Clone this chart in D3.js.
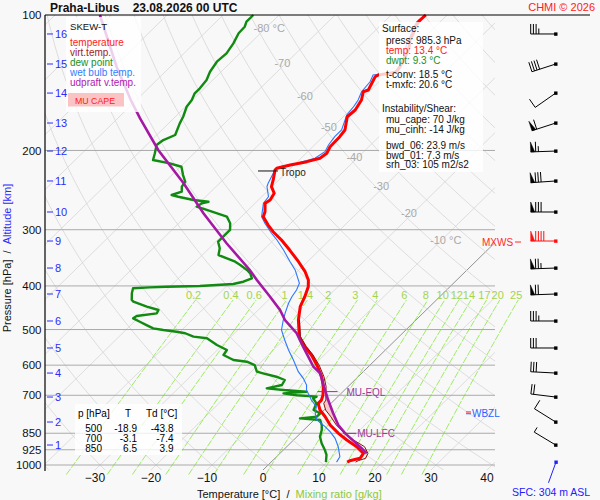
<!DOCTYPE html>
<html>
<head>
<meta charset="utf-8">
<title>Praha-Libus skew-T</title>
<script src="https://cdn.jsdelivr.net/npm/d3@7/dist/d3.min.js"></script>
<style>
  body { margin: 0; background: #f8f8f8; }
  svg { display: block; font-family: "Liberation Sans", Arial, sans-serif; }
</style>
</head>
<body>
<div id="chart"></div>
<script>
// values (hPa / deg C)
let pressureTicks = [100, 200, 300, 400, 500, 600, 700, 850, 925, 1000];
let tempTicks = [-30, -20, -10, 0, 10, 20, 30, 40];
let mixRatios = [0.2, 0.4, 0.6, 1, 1.4, 2, 3, 4, 6, 8, 10, 12, 14, 17, 20, 25];
let isoLabels = [-80, -70, -60, -50, -40, -30, -20, -10];

let tempP = [100, 102.6, 106.2, 109.8, 113.6, 117.6, 121.7, 125.9, 130.3, 133.7,
  134.8, 135.9, 137.1, 139.5, 146.8, 148.1, 154.5, 162.6, 168.3, 180.1,
  186.4, 196.2, 202.9, 208.2, 211.8, 215.4, 219.1, 221.0, 232.6, 240.7,
  249.0, 257.7, 262.1, 273.5, 280.6, 292.9, 303.1, 316.2, 332.9, 353.4,
  371.9, 388.1, 401.6, 422.7, 444.8, 476.2, 518.6, 545.9, 569.6, 599.6,
  636.6, 669.9, 700, 717.3, 729.3, 754.7, 781.1, 815, 850.5, 880,
  910.8, 942, 966.3, 978.2, 985.3];
let tempT = [-53.8, -53.9, -53.6, -52.7, -52.1, -51.0, -50.2, -49.6, -49.0, -48.7,
  -49.6, -51.4, -51.6, -51.3, -50.4, -51.0, -49.8, -49.1, -49.3, -47.3,
  -47.0, -46.9, -46.3, -46.6, -48.3, -50.7, -52.5, -52.5, -51.0, -50.1,
  -48.4, -47.9, -48.2, -46.7, -46.1, -43.7, -41.6, -38.6, -35.3, -31.6,
  -28.6, -26.5, -25.3, -24.1, -23.1, -21.0, -17.8, -15.0, -12.3, -9.5,
  -6.5, -4.4, -2.9, -2.3, -2.3, -0.75, 1.4, 3.8, 6.8, 9.5,
  12.5, 14.9, 15.2, 13.8, 13.6];

let virtP = [476.2, 518.6, 545.9, 569.6, 599.6, 636.6, 669.9, 700, 717.3, 729.3,
  754.7, 781.1, 815, 850.5, 880, 910.8, 942, 966.3, 978.2, 985.3];
let virtT = [-20.8, -17.6, -14.7, -12.0, -9.1, -6.1, -3.9, -2.4, -1.5, -1.3,
  0.25, 2.4, 4.9, 7.9, 10.7, 13.9, 15.7, 16.2, 15.3, 15.1];

let dewP = [100, 103.5, 106.2, 109.8, 115.6, 121.7, 127.0, 133.7, 139.5, 145.5,
  149.3, 154.5, 159.9, 168.3, 174.1, 184.8, 189.6, 194.5, 202.9, 210.0,
  213.6, 217.4, 226.8, 234.7, 240.7, 247.0, 251.2, 253.4, 257.7, 260.0,
  262.0, 266.7, 271.2, 280.6, 290.3, 300.4, 310.9, 319.0, 330.0, 341.5,
  347.3, 353.4, 359.4, 368.6, 375.0, 384.7, 391.5, 396.1, 400.2, 401.6,
  402.9, 404.9, 415.4, 429.9, 433.6, 444.8, 452.5, 460.2, 466.6, 472.2,
  480.4, 488.7, 497.0, 501.2, 505.6, 509.6, 518.6, 522.9, 541.1, 555.2,
  569.6, 584.4, 589.5, 599.6, 620.4, 625.6, 636.6, 647.3, 664.1, 675.5,
  681.3, 687.3, 693.0, 700, 704.7, 710.9, 729.3, 754.7, 767.6, 781.1,
  787.6, 794.3, 815, 835.9, 865.0, 894.8, 926.1, 950.0, 985.3];
let dewT = [-84.6, -84.6, -84.0, -83.9, -83.0, -82.4, -82.6, -82.0, -81.1, -80.8,
  -80.8, -80.1, -79.8, -78.6, -78.0, -76.7, -77.9, -78.2, -77.0, -76.1,
  -72.5, -69.8, -68.0, -66.4, -66.1, -65.2, -66.4, -64.9, -61.6, -58.6,
  -59.5, -59.8, -57.4, -52.6, -50.8, -49.6, -49.6, -49.6, -48.1, -47.1,
  -45.0, -42.9, -41.4, -39.3, -38.1, -36.9, -37.8, -39.2, -44.8, -50.6,
  -53.5, -56.3, -55.6, -54.4, -53.8, -50.5, -47.8, -47.5, -50.6, -50.8,
  -49.0, -47.2, -45.4, -43.3, -40.6, -38.8, -36.7, -34.0, -31.0, -28.3,
  -28.0, -25.3, -22.6, -20.6, -19.0, -17.6, -14.6, -12.5, -12.1, -14.2,
  -10.9, -6.5, -10.3, -7.6, -3.8, -4.1, -2.6, -1.9, -0.1, -0.1,
  -2.8, 1.1, 2.3, 3.2, 4.1, 5.6, 7.4, 8.6, 9.8];

let wetP = [100, 103.5, 111.7, 117.6, 121.7, 129.2, 133.7, 135.2, 135.9, 140.7,
  148.1, 154.5, 159.9, 166.8, 180.1, 186.4, 194.5, 201.3, 208.2, 213.6,
  217.4, 221.0, 236.6, 240.7, 253.4, 262.1, 280.6, 290.3, 305.5, 316.2,
  332.9, 353.4, 368.6, 394.7, 408.4, 422.7, 437.2, 460.2, 476.2, 501.2,
  527.5, 555.2, 584.4, 620.4, 641.8, 664.1, 681.3, 693.0, 717.3, 742.1,
  767.6, 794.3, 821.9, 843.3, 872.3, 910.8, 958.3, 985.3];
let wetT = [-54.0, -54.2, -52.7, -51.6, -50.2, -49.3, -49.0, -51.2, -52.3, -51.6,
  -51.3, -50.4, -50.0, -49.7, -47.9, -47.9, -47.5, -46.9, -47.5, -49.8,
  -52.2, -52.5, -51.3, -50.9, -48.8, -48.5, -46.4, -44.6, -41.6, -39.4,
  -36.4, -33.1, -30.7, -27.5, -26.8, -26.4, -25.8, -24.6, -23.7, -22.2,
  -19.8, -17.3, -14.6, -11.6, -9.5, -7.7, -6.8, -5.9, -4.1, -2.0,
  -1.0, 0.5, 3.2, 5.0, 7.1, 9.2, 11.3, 11.7];

let parcelP = [100, 130.3, 154.5, 169.7, 199.5, 236.6, 275.8, 321.6, 368.6, 388.1,
  422.7, 452.5, 476.2, 509.6, 545.9, 604.8, 625.6, 681.3, 717.3, 767.6,
  815, 850.5, 918.2, 942];
let parcelT = [-112.0, -99.6, -91.0, -86.0, -77.0, -66.4, -57.4, -47.8, -38.8, -35.7,
  -30.3, -26.1, -23.4, -18.9, -15.3, -9.8, -7.4, -3.5, -1.1, 2.2,
  5.25, 8.0, 13.7, 15.5];

// altitude marks (km) and the wind at each of them
let altKm = [1, 2, 3, 4, 5, 6, 7, 8, 9, 10, 11, 12, 13, 14, 15, 16];
let altP = [902.8, 802.6, 706.3, 624.7, 549.5, 478.6, 416.9, 365.0, 317.9, 274.0,
  233.8, 200.6, 173.8, 149.1, 128.5, 110.2];
let windDir = [301, 302, 277, 273, 270, 270, 268, 268, 270, 270, 266, 268, 252, 235, 252, 270];
let windSpd = [5, 10, 20, 30, 30, 35, 70, 75, 90, 80, 80, 65, 60, 10, 40, 35];
let sfcP = 985.3;
let sfcWindDir = 200;

let tableP = [500, 700, 850];
let tableT = [-18.9, -3.1, 6.5];
let tableTd = [-43.8, -7.4, 3.9];

let lfcP = 850.5;
let eqlP = 687;
let tropoP = 221;
let wbzlP = 767;
let mxwsKm = 9;

let W = 600, H = 500;
let plotL = 45, plotR = 495, plotT = 15, plotB = 470;
let skew = 1.02;

let y = d3.scaleLog().domain([100, 1000]).range([15, 465]);
let xT = d3.scaleLinear().domain([0, 10]).range([263, 319]);
function px(t, p) { return xT(t) + skew * (plotB - y(p)); }

function interpLog(ps, ts, p) {
  for (let i = 0; i < ps.length - 1; i++) {
    let a = ps[i], b = ps[i + 1];
    if ((p >= a && p <= b) || (p <= a && p >= b)) {
      let f = (Math.log(p) - Math.log(a)) / (Math.log(b) - Math.log(a));
      return ts[i] + f * (ts[i + 1] - ts[i]);
    }
  }
  return NaN;
}

function dewFromMix(w, p) {
  let e = w * p / (622 + w);
  let l = Math.log(e / 6.112);
  return 243.5 * l / (17.67 - l);
}

let svg = d3.select('#chart').append('svg')
  .attr('width', W)
  .attr('height', H);

svg.append('rect').attr('width', W).attr('height', H).attr('fill', '#f8f8f8');

svg.append('clipPath').attr('id', 'plot').append('rect')
  .attr('x', plotL).attr('y', plotT)
  .attr('width', plotR - plotL).attr('height', plotB - plotT);

let grid = svg.append('g').attr('clip-path', 'url(#plot)');
let pSamples = d3.range(0, 61).map(function(i) { return 1050 * Math.pow(100 / 1050, i / 60); });

// isotherms
d3.range(-130, 60, 10).forEach(function(t) {
  grid.append('line')
    .attr('x1', px(t, 1050)).attr('y1', y(1050))
    .attr('x2', px(t, 100)).attr('y2', y(100))
    .attr('stroke', t === 0 ? '#777' : '#d6d6d6')
    .attr('stroke-width', 0.8);
});

// dry adiabats
let adiabat = d3.line()
  .x(function(d) { return px(d[1], d[0]); })
  .y(function(d) { return y(d[0]); });
d3.range(-60, 230, 10).forEach(function(th) {
  let pts = pSamples.map(function(p) {
    return [p, (th + 273.15) * Math.pow(p / 1000, 0.286) - 273.15];
  });
  grid.append('path').attr('d', adiabat(pts))
    .attr('fill', 'none').attr('stroke', '#d6d6d6').attr('stroke-width', 0.8);
});

// mixing ratio lines
let mixP = d3.range(0, 21).map(function(i) { return 1050 * Math.pow(430 / 1050, i / 20); });
mixRatios.forEach(function(w) {
  let pts = mixP.map(function(p) { return [p, dewFromMix(w, p)]; });
  svg.append('path').attr('d', adiabat(pts))
    .attr('fill', 'none').attr('stroke', '#9cec62').attr('stroke-width', 1)
    .attr('stroke-dasharray', '7,1.5');
  svg.append('text')
    .attr('x', px(dewFromMix(w, 430), 430) - 2)
    .attr('y', y(430) - 1)
    .attr('text-anchor', 'middle')
    .attr('font-size', 11)
    .attr('fill', '#a4d44c')
    .text(w);
});

// isotherm labels along the 366 K adiabat
isoLabels.forEach(function(t) {
  let p = 1000 * Math.pow((t + 273.15) / 366, 1 / 0.286);
  svg.append('text')
    .attr('x', px(t, p) - 12)
    .attr('y', y(p) + 4)
    .attr('font-size', 11)
    .attr('fill', '#a8a8a8')
    .text(t + ((t === -80 || t === -10) ? ' \u00b0C' : ''));
});

// pressure lines
pressureTicks.forEach(function(p) {
  if (p === 100) return;
  svg.append('line')
    .attr('x1', plotL).attr('x2', plotR)
    .attr('y1', y(p)).attr('y2', y(p))
    .attr('stroke', '#aaa').attr('stroke-width', 1);
});

// CAPE area between parcel and environment virtual temperature
let capeLevels = d3.range(lfcP, eqlP, -4).concat([eqlP]);
let capePts = capeLevels.map(function(p) { return [px(interpLog(parcelP, parcelT, p), p), y(p)]; })
  .concat(capeLevels.slice().reverse().map(function(p) { return [px(interpLog(virtP, virtT, p), p), y(p)]; }));
svg.append('path')
  .attr('d', 'M' + capePts.join('L') + 'Z')
  .attr('fill', '#f7c8c8');

let prof = d3.line()
  .x(function(d) { return px(d[1], d[0]); })
  .y(function(d) { return y(d[0]); });
function pairs(ps, ts) { return ps.map(function(p, i) { return [p, ts[i]]; }); }

svg.append('path').attr('d', prof(pairs(dewP, dewT)))
  .attr('fill', 'none').attr('stroke', '#108a10').attr('stroke-width', 2.4).attr('stroke-linejoin', 'round');
svg.append('path').attr('d', prof(pairs(wetP, wetT)))
  .attr('fill', 'none').attr('stroke', '#2a78ff').attr('stroke-width', 1.1);
svg.append('path').attr('d', prof(pairs(tempP, tempT)))
  .attr('fill', 'none').attr('stroke', '#ff0000').attr('stroke-width', 3).attr('stroke-linejoin', 'round');
svg.append('path').attr('d', prof(pairs(virtP, virtT)))
  .attr('fill', 'none').attr('stroke', '#8b1010').attr('stroke-width', 1);
svg.append('path').attr('d', prof(pairs(parcelP, parcelT)))
  .attr('fill', 'none').attr('stroke', '#a418a4').attr('stroke-width', 2.6);

// level markers
let eqlX = px(interpLog(parcelP, parcelT, eqlP), eqlP);
svg.append('line').attr('x1', eqlX - 8).attr('x2', eqlX + 12)
  .attr('y1', y(eqlP)).attr('y2', y(eqlP)).attr('stroke', '#9a2a9a').attr('stroke-width', 1);
svg.append('text').attr('x', eqlX + 21).attr('y', y(eqlP) + 4)
  .attr('font-size', 10).attr('fill', '#9a3a9a').text('MU-EQL');
let lfcX = px(interpLog(parcelP, parcelT, lfcP), lfcP);
svg.append('line').attr('x1', lfcX - 2).attr('x2', lfcX + 11)
  .attr('y1', y(lfcP)).attr('y2', y(lfcP)).attr('stroke', '#9a2a9a').attr('stroke-width', 1);
svg.append('text').attr('x', lfcX + 12).attr('y', y(lfcP) + 4)
  .attr('font-size', 10).attr('fill', '#9a3a9a').text('MU-LFC');

svg.append('line').attr('x1', 258).attr('x2', 278)
  .attr('y1', y(tropoP) + 1).attr('y2', y(tropoP) + 1).attr('stroke', '#111');
svg.append('text').attr('x', 280).attr('y', y(tropoP) + 6)
  .attr('font-size', 10).attr('fill', '#222').text('Tropo');

svg.append('line').attr('x1', 466).attr('x2', 471).attr('y1', y(wbzlP) - 1.2).attr('y2', y(wbzlP) - 1.2)
  .attr('stroke', '#ff2020');
svg.append('line').attr('x1', 466).attr('x2', 471).attr('y1', y(wbzlP) + 0.6).attr('y2', y(wbzlP) + 0.6)
  .attr('stroke', '#2a60ff');
svg.append('text').attr('x', 472).attr('y', y(wbzlP) + 4)
  .attr('font-size', 10).attr('fill', '#2a60ff').text('WBZL');

let mxY = y(altP[mxwsKm - 1]);
svg.append('text').attr('x', 482).attr('y', mxY + 4.5)
  .attr('font-size', 10).attr('fill', '#ff2a2a').text('MXWS');
svg.append('line').attr('x1', 515).attr('x2', 521).attr('y1', mxY + 1).attr('y2', mxY + 1)
  .attr('stroke', '#ff2a2a');

// legend box
svg.append('rect').attr('x', 66).attr('y', 17).attr('width', 75).attr('height', 95)
  .attr('fill', '#fff').attr('fill-opacity', 0.8);
svg.append('text').attr('x', 70).attr('y', 30).attr('font-size', 9.6).attr('fill', '#111').text('SKEW-T');
let legendItems = ['temperature', 'virt.temp.', 'dew point', 'wet bulb temp.', 'udpraft v.temp.'];
let legendColors = ['#ff1c1c', '#a01c1c', '#1a901a', '#2f80ff', '#b020b0'];
legendItems.forEach(function(s, i) {
  svg.append('text').attr('x', 70).attr('y', 46 + i * 9.9)
    .attr('font-size', 10).attr('fill', legendColors[i]).text(s);
});
svg.append('rect').attr('x', 68).attr('y', 93).attr('width', 56).attr('height', 13.5).attr('fill', '#fbc4c4');
svg.append('text').attr('x', 75).attr('y', 103.5).attr('font-size', 8.8).attr('fill', '#ff2020').text('MU CAPE');

// surface / instability box
svg.append('rect').attr('x', 379).attr('y', 22).attr('width', 104).attr('height', 150)
  .attr('fill', '#fff').attr('fill-opacity', 0.8);
let infoLines = [
  ['Surface:', '#111', 382, 31.5],
  ['press: 985.3 hPa', '#111', 386, 43.5],
  ['temp: 13.4 \u00b0C', '#ff2020', 386, 53.5],
  ['dwpt: 9.3 \u00b0C', '#1a901a', 386, 63.5],
  ['t-conv: 18.5 \u00b0C', '#111', 386, 78],
  ['t-mxfc: 20.6 \u00b0C', '#111', 386, 88],
  ['Instability/Shear:', '#111', 382, 112],
  ['mu_cape: 70 J/kg', '#111', 386, 123],
  ['mu_cinh: -14 J/kg', '#111', 386, 133],
  ['bwd_06: 23.9 m/s', '#111', 386, 148.5],
  ['bwd_01: 7.3 m/s', '#111', 386, 158.5],
  ['srh_03: 105 m2/s2', '#111', 386, 168]
];
infoLines.forEach(function(l) {
  svg.append('text').attr('x', l[2]).attr('y', l[3])
    .attr('font-size', 10).attr('fill', l[1]).text(l[0]);
});

// table box
svg.append('rect').attr('x', 75).attr('y', 404).attr('width', 107).attr('height', 51)
  .attr('fill', '#fff').attr('fill-opacity', 0.8);
svg.append('text').attr('x', 78).attr('y', 417).attr('font-size', 10).text('p [hPa]');
svg.append('text').attr('x', 128).attr('y', 417).attr('font-size', 10).attr('text-anchor', 'middle').text('T');
svg.append('text').attr('x', 146).attr('y', 417).attr('font-size', 10).text('Td [\u00b0C]');
tableP.forEach(function(p, i) {
  let ty = 431.5 + i * 10.3;
  svg.append('text').attr('x', 102).attr('y', ty).attr('font-size', 10).attr('text-anchor', 'end').text(p);
  svg.append('text').attr('x', 137).attr('y', ty).attr('font-size', 10).attr('text-anchor', 'end').text(tableT[i].toFixed(1));
  svg.append('text').attr('x', 173.5).attr('y', ty).attr('font-size', 10).attr('text-anchor', 'end').text(tableTd[i].toFixed(1));
});

// axes
svg.append('line').attr('x1', plotL).attr('x2', plotL).attr('y1', plotT).attr('y2', plotB + 1)
  .attr('stroke', '#000').attr('stroke-width', 1.2);
svg.append('line').attr('x1', plotL).attr('x2', 590).attr('y1', plotT).attr('y2', plotT)
  .attr('stroke', '#000').attr('stroke-width', 1.2);

pressureTicks.forEach(function(p) {
  svg.append('text').attr('x', 41.5).attr('y', y(p) + 4.2)
    .attr('text-anchor', 'end').attr('font-size', 11.5).attr('fill', '#111').text(p);
});
altKm.forEach(function(k, i) {
  let ay = y(altP[i]);
  svg.append('line').attr('x1', 47).attr('x2', 53).attr('y1', ay).attr('y2', ay).attr('stroke', '#2b2bff');
  svg.append('text').attr('x', 55).attr('y', ay + 4)
    .attr('font-size', 11).attr('fill', '#2b2bff').text(k);
});
tempTicks.forEach(function(t) {
  svg.append('text').attr('x', xT(t)).attr('y', 482)
    .attr('text-anchor', 'middle').attr('font-size', 12).attr('fill', '#111')
    .text(t < 0 ? '\u2212' + Math.abs(t) : t);
});

let xTitle = svg.append('text').attr('x', 197).attr('y', 498).attr('font-size', 11).attr('fill', '#111');
xTitle.append('tspan').text('Temperature [\u00b0C]\u00a0\u00a0/\u00a0\u00a0');
xTitle.append('tspan').attr('fill', '#8cc83c').text('Mixing ratio [g/kg]');

let yTitle = svg.append('text').attr('transform', 'translate(11,258) rotate(-90)')
  .attr('text-anchor', 'middle').attr('font-size', 11).attr('fill', '#111');
yTitle.append('tspan').text('Pressure [hPa]\u00a0\u00a0/\u00a0\u00a0');
yTitle.append('tspan').attr('fill', '#2b2bff').text('Altitude [km]');

svg.append('text').attr('x', 50).attr('y', 11.5).attr('font-size', 12).attr('font-weight', 'bold')
  .attr('fill', '#111').text('Praha-Libus\u00a0\u00a0\u00a0\u00a023.08.2026 00 UTC');
svg.append('text').attr('x', 595).attr('y', 11).attr('text-anchor', 'end').attr('font-size', 11)
  .attr('fill', '#ff2020').text('CHMI \u00a9 2026');

// wind barbs
function drawBarb(cx, cy, dir, spd, color, len) {
  let a = dir * Math.PI / 180;
  let ux = Math.sin(a), uy = -Math.cos(a);
  let nx = -uy, ny = ux;
  let ex = cx + ux * len, ey = cy + uy * len;
  let g = svg.append('g').attr('stroke', color).attr('fill', color);
  g.append('line').attr('x1', cx).attr('y1', cy).attr('x2', ex).attr('y2', ey).attr('stroke-width', 1);
  g.append('rect').attr('x', cx - 1.6).attr('y', cy - 1.6).attr('width', 3.4).attr('height', 3.4).attr('stroke', 'none');
  let rest = Math.round(spd / 5) * 5;
  let pos = 0;
  while (rest >= 50) {
    let bx = ex - ux * pos, by = ey - uy * pos;
    g.append('path')
      .attr('d', 'M' + bx + ',' + by + 'L' + (bx + nx * 10) + ',' + (by + ny * 10) +
        'L' + (bx - ux * 4) + ',' + (by - uy * 4) + 'Z')
      .attr('stroke-width', 0.5);
    pos += 5;
    rest -= 50;
  }
  while (rest >= 10) {
    let bx = ex - ux * pos, by = ey - uy * pos;
    g.append('line').attr('x1', bx).attr('y1', by)
      .attr('x2', bx + nx * 10).attr('y2', by + ny * 10).attr('stroke-width', 1);
    pos += 2.7;
    rest -= 10;
  }
  if (rest >= 5) {
    let bx = ex - ux * pos, by = ey - uy * pos;
    g.append('line').attr('x1', bx).attr('y1', by)
      .attr('x2', bx + nx * 5.5).attr('y2', by + ny * 5.5).attr('stroke-width', 1);
  }
}

altKm.forEach(function(k, i) {
  drawBarb(555.7, y(altP[i]), windDir[i], windSpd[i], k === mxwsKm ? '#ff1010' : '#000', 25);
});
drawBarb(556, y(sfcP), sfcWindDir, 0, '#2020ff', 22);
svg.append('text').attr('x', 512).attr('y', 496).attr('font-size', 10.5)
  .attr('fill', '#2020ff').text('SFC: 304 m ASL');
</script>
</body>
</html>
